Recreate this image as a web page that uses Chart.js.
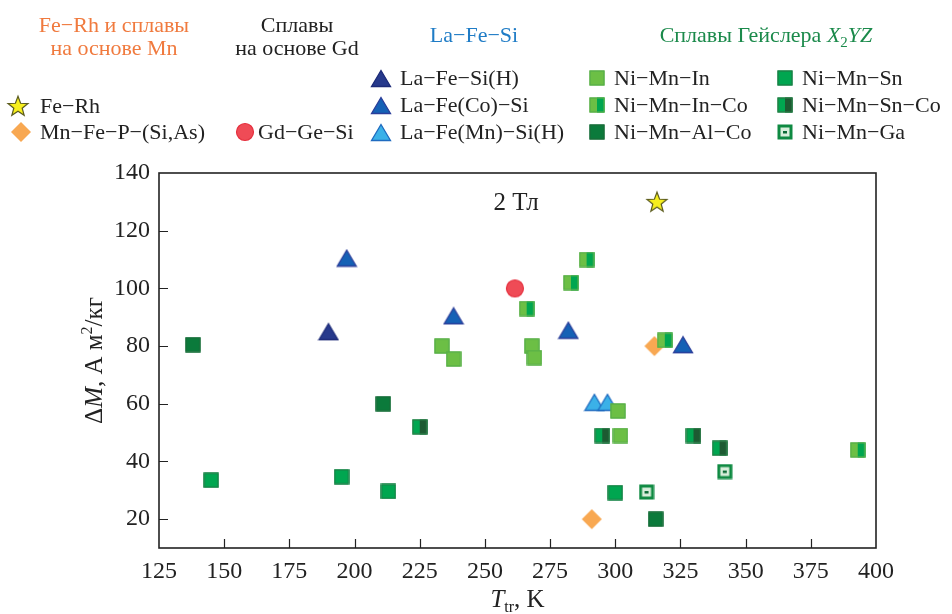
<!DOCTYPE html>
<html><head><meta charset="utf-8">
<script src="https://cdn.jsdelivr.net/npm/chart.js@4.4.0/dist/chart.umd.min.js"></script>
<style>
html,body{margin:0;padding:0;background:#fff;}
#wrap{position:relative;width:952px;height:614px;font-family:"Liberation Serif","Tinos","Times New Roman","DejaVu Serif",serif;color:#222;}
#c{position:absolute;left:0;top:0;}
.h{position:absolute;font-size:22px;line-height:23px;text-align:center;white-space:nowrap;transform:translateX(-50%);}
.t{position:absolute;font-size:22px;line-height:22px;white-space:nowrap;transform:translateY(-50%);}
.m{position:absolute;}
</style></head>
<body>
<div id="wrap"><canvas id="c" width="952" height="614"></canvas><div id="leg"></div></div>
<script>
// ---- data (T in K, ΔM in A m²/kg) ----
const feRhT = [316],            feRhM = [130];
const mnFePT = [315, 291],      mnFePM = [80, 20];
const gdGeSiT = [261.5],        gdGeSiM = [100];
const laFeSiHT = [190],         laFeSiHM = [85];
const laFeCoSiT = [197, 238, 282, 326], laFeCoSiM = [110.5, 90.5, 85.5, 80.5];
const laFeMnSiHT = [292, 297],  laFeMnSiHM = [60.5, 60.5];
const niMnInT = [233.5, 238, 268, 269, 301, 302], niMnInM = [80, 75.5, 80, 76, 57.5, 49];
const niMnInCoT = [289, 283, 266, 319, 393], niMnInCoM = [110, 102, 93, 82, 44];
const niMnAlCoT = [138, 211, 315.5], niMnAlCoM = [80.5, 60, 20];
const niMnSnT = [145, 195, 213, 300], niMnSnM = [33.5, 34.7, 29.6, 29.2];
const niMnSnCoT = [225, 295, 330, 340], niMnSnCoM = [52, 49, 49, 44.6];
const niMnGaT = [342, 312],     niMnGaM = [36.5, 29.4];
const xTicks = [125, 150, 175, 200, 225, 250, 275, 300, 325, 350, 375, 400];
const yTicks = [20, 40, 60, 80, 100, 120, 140];
const seriesNames = ['Fe−Rh','Mn−Fe−P−(Si,As)','Gd−Ge−Si','La−Fe−Si(H)','La−Fe(Co)−Si','La−Fe(Mn)−Si(H)',
  'Ni−Mn−In','Ni−Mn−In−Co','Ni−Mn−Al−Co','Ni−Mn−Sn','Ni−Mn−Sn−Co','Ni−Mn−Ga'];

const FONT = '"Liberation Serif", Tinos, "Times New Roman", "DejaVu Serif", serif';
const C = {
  lgreen:'#6cbf45', green:'#00a650', dgreen:'#0b7a3b', sdark:'#1d5a32',
  navy:'#273a8c', blue:'#1561b5', lblue:'#3bb1e8'
};

function cv(w,h,fn){const c=document.createElement('canvas');c.width=w;c.height=h;fn(c.getContext('2d'),w,h);return c;}
function sq(fillL, fillR, stroke){
  return cv(16,16,(g)=>{
    g.fillStyle=fillL; g.fillRect(0.5,0.5,15,15);
    if(fillR){g.fillStyle=fillR; g.fillRect(8,0.5,7.5,15);}
    g.strokeStyle=stroke; g.lineWidth=1.2; g.strokeRect(1,1,14,14);
  });
}
function tri(fill, stroke){
  return cv(22,19,(g)=>{
    g.beginPath(); g.moveTo(11,1.5); g.lineTo(20.5,17.5); g.lineTo(1.5,17.5); g.closePath();
    g.fillStyle=fill; g.fill(); g.strokeStyle=stroke; g.lineWidth=1.3; g.stroke();
  });
}
const markers = {
  star: cv(24,24,(g)=>{
    g.beginPath();
    for(let i=0;i<10;i++){const r=i%2?4.4:10.5; const a=-Math.PI/2+i*Math.PI/5; g.lineTo(12+r*Math.cos(a),12.8+r*Math.sin(a));}
    g.closePath(); g.fillStyle='#f7ef1e'; g.fill(); g.strokeStyle='#5c5c1e'; g.lineWidth=1.2; g.stroke();
  }),
  diamond: cv(22,22,(g)=>{
    g.beginPath(); g.moveTo(11,1); g.lineTo(21,11); g.lineTo(11,21); g.lineTo(1,11); g.closePath();
    g.fillStyle='#f8a852'; g.fill();
  }),
  circle: cv(20,20,(g)=>{
    g.beginPath(); g.arc(10,10,8.5,0,Math.PI*2); g.fillStyle='#ef4b56'; g.fill(); g.strokeStyle='#e5303e'; g.lineWidth=1.2; g.stroke();
  }),
  triNavy: tri(C.navy,'#1d2b78'),
  triBlue: tri(C.blue,'#2b3e9a'),
  triLight: tri(C.lblue,'#1f6bc0'),
  sqIn: sq(C.lgreen,null,'#55ad4a'),
  sqInCo: sq(C.lgreen,C.green,'#55ad4a'),
  sqAlCo: sq(C.dgreen,null,'#1c6b3a'),
  sqSn: sq(C.green,null,'#1f7a45'),
  sqSnCo: sq(C.green,C.sdark,'#2a7a45'),
  sqGa: cv(16,16,(g)=>{
    g.fillStyle='#0f8a42'; g.fillRect(0.5,0.5,15,15);
    g.fillStyle='#d9eedb'; g.fillRect(3.5,3.5,9,9);
    g.fillStyle='#0b6a35'; g.fillRect(6,7,4,2.5);
  })
};
const markerOf = ['star','diamond','circle','triNavy','triBlue','triLight','sqIn','sqInCo','sqAlCo','sqSn','sqSnCo','sqGa'];
const Ts = [feRhT,mnFePT,gdGeSiT,laFeSiHT,laFeCoSiT,laFeMnSiHT,niMnInT,niMnInCoT,niMnAlCoT,niMnSnT,niMnSnCoT,niMnGaT];
const Ms = [feRhM,mnFePM,gdGeSiM,laFeSiHM,laFeCoSiM,laFeMnSiHM,niMnInM,niMnInCoM,niMnAlCoM,niMnSnM,niMnSnCoM,niMnGaM];

const datasets = seriesNames.map((n,i)=>({
  label:n,
  data: Ts[i].map((t,j)=>({x:t,y:Ms[i][j]})),
  pointStyle: markers[markerOf[i]],
  pointRadius: 10, pointHoverRadius:10,
  order: i>=6 ? 0 : 1,
  showLine:false
}));

const L=159, R=876, T=173, B=548;

const framePlugin = {
  id:'frame',
  afterDraw(chart){
    const g=chart.ctx, a=chart.chartArea, xs=chart.scales.x, ys=chart.scales.y;
    g.save();
    g.strokeStyle='#222'; g.lineWidth=1.6;
    g.strokeRect(a.left,a.top,a.right-a.left,a.bottom-a.top);
    g.lineWidth=1.2; g.beginPath();
    xTicks.forEach(v=>{ if(v>125&&v<400){const p=Math.round(xs.getPixelForValue(v))+0.5; g.moveTo(p,a.bottom); g.lineTo(p,a.bottom-9);} });
    yTicks.forEach(v=>{ if(v<140){const p=Math.round(ys.getPixelForValue(v))+0.5; g.moveTo(a.left,p); g.lineTo(a.left+9,p);} });
    g.stroke();
    // annotation "2 Тл"
    g.fillStyle='#222'; g.font='25px '+FONT; g.textAlign='center'; g.textBaseline='middle';
    g.fillText('2 Тл', xs.getPixelForValue(262), ys.getPixelForValue(129.6));
    function rich(parts){
      let w=0; parts.forEach(p=>{g.font=p.f; p.w=g.measureText(p.s).width; w+=p.w;}); return w;
    }
    const yParts=[{s:'Δ',f:'25px '+FONT},{s:'M',f:'italic 25px '+FONT},{s:', А м',f:'25px '+FONT},{s:'2',f:'16px '+FONT,dy:-10},{s:'/кг',f:'25px '+FONT}];
    let w=rich(yParts);
    g.translate(102,(a.top+a.bottom)/2); g.rotate(-Math.PI/2);
    g.textAlign='left'; g.textBaseline='alphabetic';
    let x=-w/2; yParts.forEach(p=>{g.font=p.f; g.fillText(p.s,x,(p.dy||0)); x+=p.w;});
    g.setTransform(1,0,0,1,0,0);
    const xParts=[{s:'T',f:'italic 25px '+FONT},{s:'tr',f:'16px '+FONT,dy:5},{s:', K',f:'25px '+FONT}];
    w=rich(xParts); x=(a.left+a.right)/2-w/2;
    xParts.forEach(p=>{g.font=p.f; g.fillText(p.s,x,607+(p.dy||0)); x+=p.w;});
    g.restore();
  }
};

new Chart(document.getElementById('c'),{
  type:'scatter',
  data:{datasets},
  options:{
    responsive:false, animation:false, devicePixelRatio:1,
    layout:{padding:{left:0,right:952-R,top:T,bottom:0}},
    plugins:{legend:{display:false},tooltip:{enabled:false}},
    scales:{
      x:{type:'linear',min:125,max:400,
        afterBuildTicks:s=>{s.ticks=xTicks.map(v=>({value:v}));},
        afterFit:s=>{s.height=614-B;},
        grid:{display:false,drawTicks:false}, border:{display:false},
        ticks:{color:'#222',font:{family:FONT,size:24},padding:9,maxRotation:0,autoSkip:false}},
      y:{type:'linear',min:10,max:140,
        afterBuildTicks:s=>{s.ticks=yTicks.map(v=>({value:v}));},
        afterFit:s=>{s.width=L;},
        grid:{display:false,drawTicks:false}, border:{display:false},
        ticks:{color:'#222',font:{family:FONT,size:24},padding:9,autoSkip:false}}
    }
  },
  plugins:[framePlugin]
});

// ---- legend (HTML) ----
const leg=document.getElementById('leg');
const headers=[
  {html:'Fe−Rh и сплавы<br>на основе Mn',x:114,y:13,c:'#f07a3e'},
  {html:'Сплавы<br>на основе Gd',x:297,y:13,c:'#222'},
  {html:'La−Fe−Si',x:474,y:23,c:'#1f7cc6'},
  {html:'Сплавы Гейслера <i>X</i><sub style="font-size:15px;line-height:0">2</sub><i>YZ</i>',x:766,y:23,c:'#1b8a4b'}
];
headers.forEach(h=>{const d=document.createElement('div');d.className='h';d.style.left=h.x+'px';d.style.top=h.y+'px';d.style.color=h.c;d.innerHTML=h.html;leg.appendChild(d);});
const items=[
  [0,18,106,40],[1,21,132,40],[2,245,132,258],
  [3,381,78,400],[4,381,105,400],[5,381,132,400],
  [6,597,78,614],[7,597,105,614],[8,597,132,614],
  [9,785,78,802],[10,785,105,802],[11,785,132,802]
];
items.forEach(([i,mx,my,tx])=>{
  const src=markers[markerOf[i]];
  const m=document.createElement('canvas'); m.width=src.width; m.height=src.height; m.className='m';
  m.getContext('2d').drawImage(src,0,0);
  m.style.left=(mx-src.width/2)+'px'; m.style.top=(my-src.height/2)+'px';
  leg.appendChild(m);
  const t=document.createElement('div'); t.className='t'; t.style.left=tx+'px'; t.style.top=my+'px'; t.textContent=seriesNames[i];
  leg.appendChild(t);
});
</script>
</body></html>
